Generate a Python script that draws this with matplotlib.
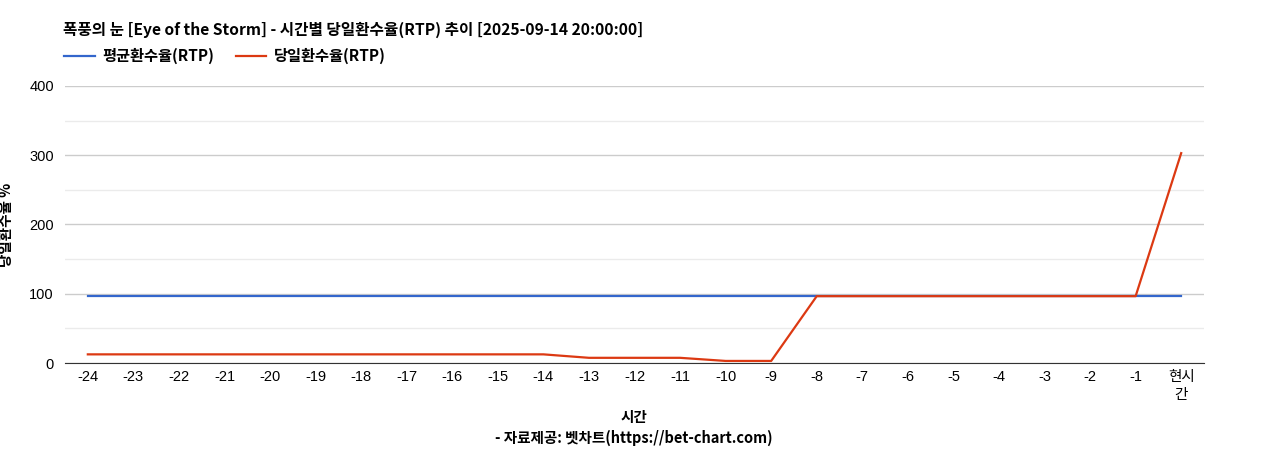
import matplotlib
matplotlib.use("Agg")
import matplotlib.pyplot as plt
from matplotlib.ticker import MultipleLocator

plt.rcParams['font.family'] = ['Noto Sans CJK KR', 'DejaVu Sans']

hours = ['-24', '-23', '-22', '-21', '-20', '-19', '-18', '-17', '-16', '-15', '-14', '-13',
         '-12', '-11', '-10', '-9', '-8', '-7', '-6', '-5', '-4', '-3', '-2', '-1', '현시\n간']
avg_rtp = [96.5] * 25
day_rtp = [12.5, 12.5, 12.5, 12.5, 12.5, 12.5, 12.5, 12.5, 12.5, 12.5, 12.5, 7.5,
           7.5, 7.5, 3, 3, 96.5, 96.5, 96.5, 96.5, 96.5, 96.5, 96.5, 96.5, 303]

tick_font = ['Liberation Sans', 'Noto Sans CJK KR']

fig = plt.figure(figsize=(12.68, 4.5), dpi=100)
ax = fig.add_axes([0.0513, 0.1933, 0.8982, 0.6157])

x = list(range(len(hours)))
ax.plot(x, avg_rtp, color='#3366cc', lw=1.6, label='평균환수율(RTP)')
ax.plot(x, day_rtp, color='#dc3912', lw=1.6, label='당일환수율(RTP)')

ax.set_xlim(-0.5, 24.5)
ax.set_ylim(0, 400)
ax.yaxis.set_major_locator(MultipleLocator(100))
ax.yaxis.set_minor_locator(MultipleLocator(50))
ax.grid(which='major', axis='y', color='#cccccc', lw=1)
ax.grid(which='minor', axis='y', color='#ebebeb', lw=1)
ax.set_axisbelow(True)
ax.set_xticks(x)
ax.set_xticklabels(hours, fontsize=10.5, linespacing=1.35, family=tick_font)
for lab in ax.get_yticklabels():
    lab.set_family(tick_font)
ax.tick_params(axis='y', labelsize=10.5, length=0, pad=8)
ax.tick_params(axis='x', length=0, pad=5)
ax.tick_params(which='minor', length=0)
for s in ['top', 'right', 'left']:
    ax.spines[s].set_visible(False)
ax.spines['bottom'].set_color('#333333')

ax.set_ylabel('당일환수율 %', fontsize=10.5, fontweight='bold')
ax.yaxis.set_label_coords(-0.045, 0.5)

fig.text(0.0497, 0.933, '폭풍의 눈 [Eye of the Storm] - 시간별 당일환수율(RTP) 추이 [2025-09-14 20:00:00]',
         fontsize=11.25, fontweight='bold', va='center')
ax.legend(loc='lower left', bbox_to_anchor=(-0.006, 1.056), ncol=2, frameon=False,
          prop={'weight': 'bold', 'size': 11}, handlelength=2.0,
          handletextpad=0.5, columnspacing=1.4, borderaxespad=0)
fig.text(0.5, 0.074, '시간', fontsize=10.5, fontweight='bold', ha='center', va='center')
fig.text(0.5, 0.028, '- 자료제공: 벳차트(https://bet-chart.com)', fontsize=10.5,
         fontweight='bold', ha='center', va='center')

fig.savefig('out.png', dpi=100)
